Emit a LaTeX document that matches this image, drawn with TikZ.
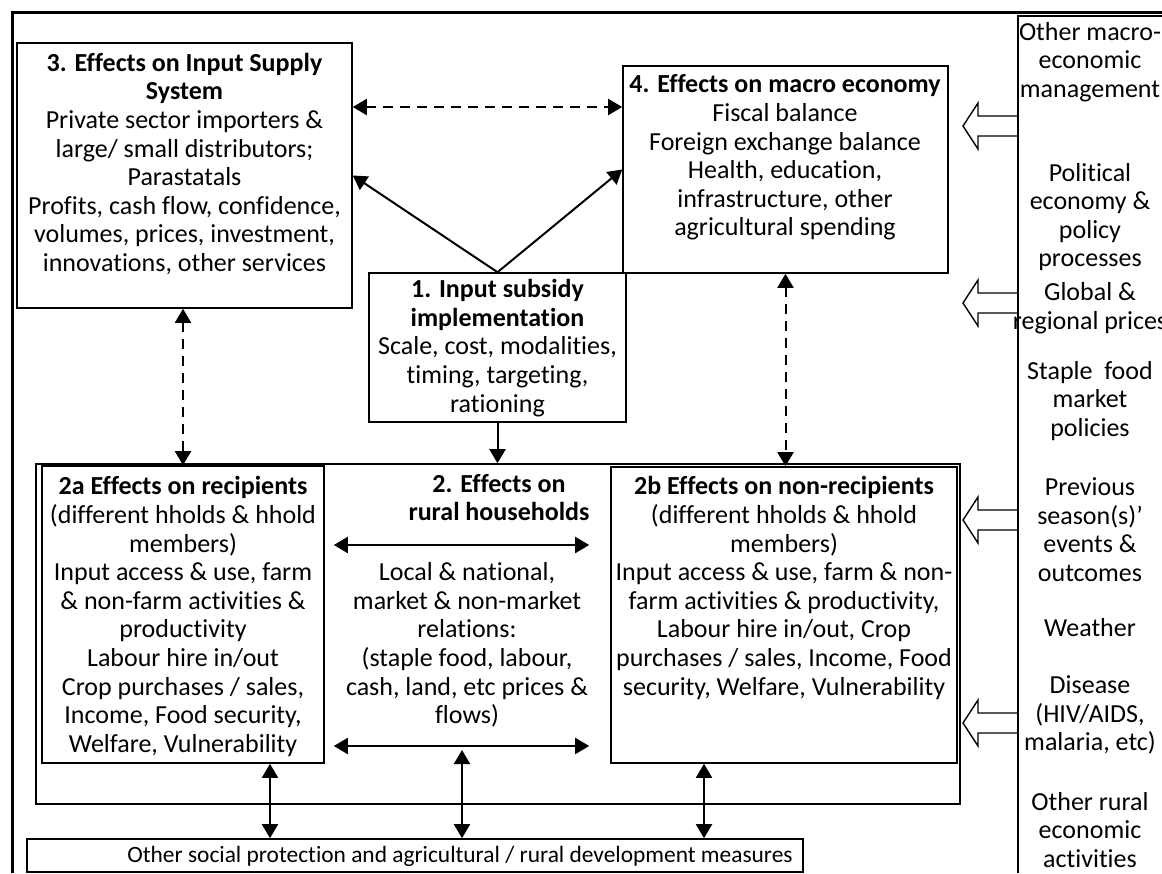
\documentclass[tikz,border=0pt]{standalone}
\usepackage{fontspec}
\setmainfont{Carlito}[Ligatures=NoCommon]
\usetikzlibrary{arrows.meta}

\begin{document}
\begin{tikzpicture}[x=0.5pt, y=-0.5pt,
  box/.style={draw=black, line width=0.8pt, inner sep=0pt},
  txt/.style={align=center, inner sep=0pt, font=\fontsize{13}{14.3}\selectfont},
  onearrow/.style={line width=1pt, -{Triangle[length=7pt, width=8pt]}},
  twoarrow/.style={line width=1pt, {Triangle[length=7pt, width=8pt]}-{Triangle[length=7pt, width=8pt]}},
  dasharrow/.style={twoarrow, dash pattern=on 5pt off 3.5pt},
  hollowarrow/.pic={\draw[line width=0.7pt] (0,-10) -- (-40,-10) -- (-40,-23) -- (-55,0) -- (-40,23) -- (-40,10) -- (0,10);}]
\useasboundingbox (0,0) rectangle (1162,873);

\draw[line width=1.5pt] (12,873) -- (12,12) -- (1162,12);
\draw[line width=0.7pt] (1018,873) -- (1018,16) -- (1162,16);

\node[box, minimum width=167.5pt, minimum height=132.5pt] (supply) at (184.5,175.5) {};
\node[box, minimum width=162.5pt, minimum height=103.5pt] (macro) at (785.5,169.5) {};
\node[box, minimum width=128.5pt, minimum height=74.5pt] (subsidy) at (497.5,347.5) {};
\node[box, minimum width=462pt, minimum height=170pt] (rural) at (498,634) {};
\node[box, minimum width=141pt, minimum height=148.5pt] (recip) at (183,614.5) {};
\node[box, minimum width=173pt, minimum height=148pt] (nonrecip) at (784,615) {};
\node[box, minimum width=388pt, minimum height=16.5pt] (social) at (415,855.5) {};

\node[txt] at (184.5,164) {\textbf{3. Effects on Input Supply}\\\textbf{System}\\Private sector importers \&\\large/ small distributors;\\Parastatals\\Profits, cash flow, confidence,\\volumes, prices, investment,\\innovations, other services};
\node[txt] at (785,157.5) {\textbf{4. Effects on macro economy}\\Fiscal balance\\Foreign exchange balance\\Health, education,\\infrastructure, other\\agricultural spending};
\node[txt] at (497.5,348) {\textbf{1. Input subsidy}\\\textbf{implementation}\\Scale, cost, modalities,\\timing, targeting,\\rationing};
\node[txt] at (183,616.5) {\textbf{2a Effects on recipients}\\(different hholds \& hhold\\members)\\Input access \& use, farm\\\& non-farm activities \&\\productivity\\Labour hire in/out\\Crop purchases / sales,\\Income, Food security,\\Welfare, Vulnerability};
\node[txt] at (499,497.5) {\textbf{2. Effects on}\\\textbf{rural households}};
\node[txt] (relations) at (467,645) {Local \& national,\\market \& non-market\\relations:\\(staple food, labour,\\cash, land, etc prices \&\\flows)};
\node[txt] at (784,588) {\textbf{2b Effects on non-recipients}\\(different hholds \& hhold\\members)\\Input access \& use, farm \& non-\\farm activities \& productivity,\\Labour hire in/out, Crop\\purchases / sales, Income, Food\\security, Welfare, Vulnerability};
\node[txt, font=\fontsize{11.7}{14.3}\selectfont] at (460,856) {Other social protection and agricultural / rural development measures};

\node[txt] at (1090,62) {Other macro-\\economic\\management};
\node[txt] at (1090,217) {Political\\economy \&\\policy\\processes};
\node[txt] at (1090,308.5) {Global \&\\regional prices};
\node[txt] at (1090,401) {Staple\ \ food\\market\\policies};
\node[txt] at (1090,529.5) {Previous\\season(s)’\\events \&\\outcomes};
\node[txt] at (1090,628) {Weather};
\node[txt] at (1090,715) {Disease\\(HIV/AIDS,\\malaria, etc)};
\node[txt] at (1090,830) {Other rural\\economic\\activities};

\foreach \y in {126,303,520,723}
  \pic at (1018,\y) {hollowarrow};

\coordinate (dashrow) at (0,107);
\coordinate (reltop) at (0,545);
\coordinate (relbot) at (0,746);
\coordinate (c1) at (270,0);
\coordinate (c2) at (462,750);
\coordinate (c3) at (704,0);

\draw[onearrow] (subsidy.north) -- (supply.east);
\draw[onearrow] (subsidy.north) -- (macro.west);
\draw[onearrow] (subsidy.south) -- (subsidy.south |- rural.north);
\draw[dasharrow] (supply.east |- dashrow) -- (macro.west |- dashrow);
\draw[dasharrow] (supply.south -| recip.north) -- (recip.north);
\draw[dasharrow] (macro.south) -- (macro.south |- nonrecip.north);
\draw[twoarrow, shorten <=4.5pt, shorten >=10.5pt] (recip.east |- reltop) -- (nonrecip.west |- reltop);
\draw[twoarrow, shorten <=4.5pt, shorten >=10.5pt] (recip.east |- relbot) -- (nonrecip.west |- relbot);
\draw[twoarrow] (c1 |- recip.south) -- (c1 |- social.north);
\draw[twoarrow] (c2) -- (c2 |- social.north);
\draw[twoarrow] (c3 |- nonrecip.south) -- (c3 |- social.north);
\end{tikzpicture}
\end{document}
